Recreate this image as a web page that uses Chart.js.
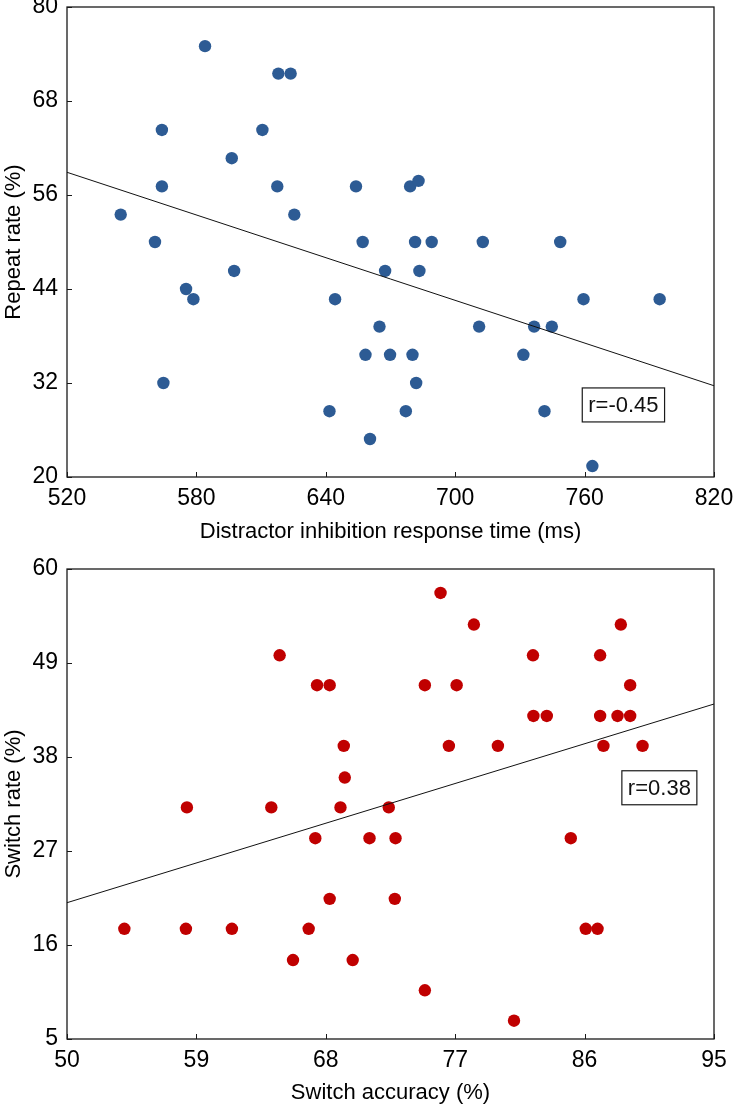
<!DOCTYPE html>
<html>
<head>
<meta charset="utf-8">
<title>Repeat and switch rates</title>
<script src="https://cdn.jsdelivr.net/npm/chart.js@4.4.0/dist/chart.umd.min.js"></script>
<style>
    html, body { margin: 0; padding: 0; background: #fff; }
    .box { position: relative; width: 734px; }
    #repeatBox { height: 550px; }
    #switchBox { height: 559px; }
</style>
</head>
<body>
<div class="box" id="repeatBox"><canvas id="repeatChart"></canvas></div>
<div class="box" id="switchBox"><canvas id="switchChart"></canvas></div>

<script>
// ===== DATA: TOP PANEL (distractor inhibition) =====
const rtValues = [
    584, 618, 623.7, 564, 610.6, 596.4, 564, 617.5, 654, 679.1, 683,
    544.9, 625.4, 560.8, 657.1, 681.4, 689.1, 712.8, 748.7,
    597.5, 667.5, 683.4, 575.2, 578.6, 644.3, 759.5, 794.8,
    664.9, 711.1, 736.6, 744.8, 658.4, 669.8, 680.2, 731.6,
    564.7, 681.9, 641.7, 677.1, 741.4, 660.5, 763.6
];
const repeatRates = [
    75, 71.5, 71.5, 64.3, 64.3, 60.7, 57.1, 57.1, 57.1, 57.1, 57.8,
    53.5, 53.5, 50, 50, 50, 50, 50, 50,
    46.3, 46.3, 46.3, 44, 42.7, 42.7, 42.7, 42.7,
    39.2, 39.2, 39.2, 39.2, 35.6, 35.6, 35.6, 35.6,
    32, 32, 28.4, 28.4, 28.4, 24.85, 21.4
];
const rtTicks = [520, 580, 640, 700, 760, 820];
const repeatTicks = [20, 32, 44, 56, 68, 80];
const rtFitX = [520, 820];
const repeatFitY = [58.9, 31.65];
const repeatR = "r=-0.45";
const repeatRAt = [778, 29.2];

// ===== DATA: BOTTOM PANEL (switch accuracy) =====
const accuracyValues = [
    64.79, 67.39, 68.27, 69.25, 69.32, 58.34, 64.21, 69.02, 72.38,
    75.98, 78.3, 88.52, 82.41, 87.08, 74.89, 77.1, 89.17,
    82.44, 83.37, 87.08, 88.29, 89.17, 76.56, 79.97, 87.31, 90.03,
    67.27, 71.04, 72.85, 85.04, 68.27, 72.8,
    53.99, 58.27, 61.47, 66.81, 65.72, 69.87, 86.08, 86.9, 74.89, 81.09
];
const switchRates = [
    49.9, 46.4, 46.4, 39.3, 35.6, 32.1, 32.1, 32.1, 32.1,
    57.2, 53.5, 53.5, 49.9, 49.9, 46.4, 46.4, 46.4,
    42.8, 42.8, 42.8, 42.8, 42.8, 39.3, 39.3, 39.3, 39.3,
    28.5, 28.5, 28.5, 28.5, 21.4, 21.4,
    17.9, 17.9, 17.9, 17.9, 14.24, 14.24, 17.9, 17.9, 10.7, 7.14
];
const accuracyTicks = [50, 59, 68, 77, 86, 95];
const switchTicks = [5, 16, 27, 38, 49, 60];
const accFitX = [50, 95];
const switchFitY = [20.95, 44.2];
const switchR = "r=0.38";
const switchRAt = [91.2, 34.4];

const FONT = "'Liberation Sans', Arial, sans-serif";

// ===== FRAME, INNER TICKS AND r BOX =====
const framePlugin = {
    id: "frame",
    afterDatasetsDraw(chart, args, opts) {
        const ctx = chart.ctx;
        const a = chart.chartArea;
        const xs = chart.scales.x;
        const ys = chart.scales.y;
        ctx.save();
        ctx.strokeStyle = "#1a1a1a";
        ctx.lineWidth = 1.3;
        ctx.strokeRect(a.left, a.top, a.right - a.left, a.bottom - a.top);

        ctx.lineWidth = 1;
        ctx.beginPath();
        xs.ticks.forEach(t => {
            const px = Math.round(xs.getPixelForValue(t.value)) + 0.5;
            ctx.moveTo(px, a.bottom);
            ctx.lineTo(px, a.bottom - 5);
        });
        ys.ticks.forEach(t => {
            const py = Math.round(ys.getPixelForValue(t.value)) + 0.5;
            ctx.moveTo(a.left, py);
            ctx.lineTo(a.left + 5, py);
        });
        ctx.stroke();

        if (opts.text) {
            ctx.font = "22px " + FONT;
            const w = ctx.measureText(opts.text).width;
            const cx = xs.getPixelForValue(opts.at[0]);
            const cy = ys.getPixelForValue(opts.at[1]);
            const bw = w + 12, bh = 34;
            ctx.fillStyle = "#fff";
            ctx.fillRect(cx - bw / 2, cy - bh / 2, bw, bh);
            ctx.lineWidth = 1.2;
            ctx.strokeRect(cx - bw / 2, cy - bh / 2, bw, bh);
            ctx.fillStyle = "#111";
            ctx.textAlign = "center";
            ctx.textBaseline = "middle";
            ctx.fillText(opts.text, cx, cy + 1);
        }
        ctx.restore();
    }
};

// ===== BUILD ONE PANEL =====
function makePanel(id, p) {
    const points = p.xs.map((x, i) => ({ x: x, y: p.ys[i] }));
    const fit = p.fitX.map((x, i) => ({ x: x, y: p.fitY[i] }));

    return new Chart(document.getElementById(id), {
        type: "scatter",
        data: {
            datasets: [
                {
                    data: fit,
                    showLine: true,
                    borderColor: "#111",
                    borderWidth: 1,
                    pointRadius: 0,
                    fill: false
                },
                {
                    data: points,
                    pointRadius: 6.2,
                    pointHoverRadius: 6.2,
                    backgroundColor: p.color,
                    borderWidth: 0
                }
            ]
        },
        options: {
            responsive: true,
            maintainAspectRatio: false,
            animation: false,
            layout: { padding: { top: p.padTop, right: 20, left: 0, bottom: 0 } },
            plugins: {
                legend: { display: false },
                tooltip: { enabled: false },
                frame: { text: p.rText, at: p.rAt }
            },
            scales: {
                x: {
                    type: "linear",
                    min: p.xTicks[0],
                    max: p.xTicks[p.xTicks.length - 1],
                    afterBuildTicks: s => { s.ticks = p.xTicks.map(v => ({ value: v })); },
                    grid: { display: false },
                    border: { display: false },
                    ticks: { color: "#000", font: { size: 23, family: FONT }, padding: 0, maxRotation: 0, autoSkip: false },
                    title: {
                        display: true,
                        text: p.xTitle,
                        color: "#000",
                        font: { size: 22, family: FONT },
                        padding: { top: 0, bottom: p.titlePad }
                    },
                    afterFit: s => { s.height = p.xHeight; s.paddingLeft = 0; s.paddingRight = 0; }
                },
                y: {
                    type: "linear",
                    min: p.yTicks[0],
                    max: p.yTicks[p.yTicks.length - 1],
                    afterBuildTicks: s => { s.ticks = p.yTicks.map(v => ({ value: v })); },
                    grid: { display: false },
                    border: { display: false },
                    ticks: { color: "#000", font: { size: 23, family: FONT }, padding: 1, autoSkip: false },
                    title: {
                        display: true,
                        text: p.yTitle,
                        color: "#000",
                        font: { size: 22, family: FONT },
                        padding: { top: 1, bottom: 0 }
                    },
                    afterFit: s => { s.width = 67; s.paddingTop = 0; s.paddingBottom = 0; }
                }
            }
        },
        plugins: [framePlugin]
    });
}

makePanel("repeatChart", {
    xs: rtValues, ys: repeatRates, fitX: rtFitX, fitY: repeatFitY,
    xTicks: rtTicks, yTicks: repeatTicks,
    color: "#2d5b94",
    xTitle: "Distractor inhibition response time (ms)",
    yTitle: "Repeat rate (%)",
    rText: repeatR, rAt: repeatRAt,
    padTop: 7, xHeight: 73, titlePad: 5
});

makePanel("switchChart", {
    xs: accuracyValues, ys: switchRates, fitX: accFitX, fitY: switchFitY,
    xTicks: accuracyTicks, yTicks: switchTicks,
    color: "#c00000",
    xTitle: "Switch accuracy (%)",
    yTitle: "Switch rate (%)",
    rText: switchR, rAt: switchRAt,
    padTop: 19, xHeight: 70, titlePad: 3
});
</script>
</body>
</html>
